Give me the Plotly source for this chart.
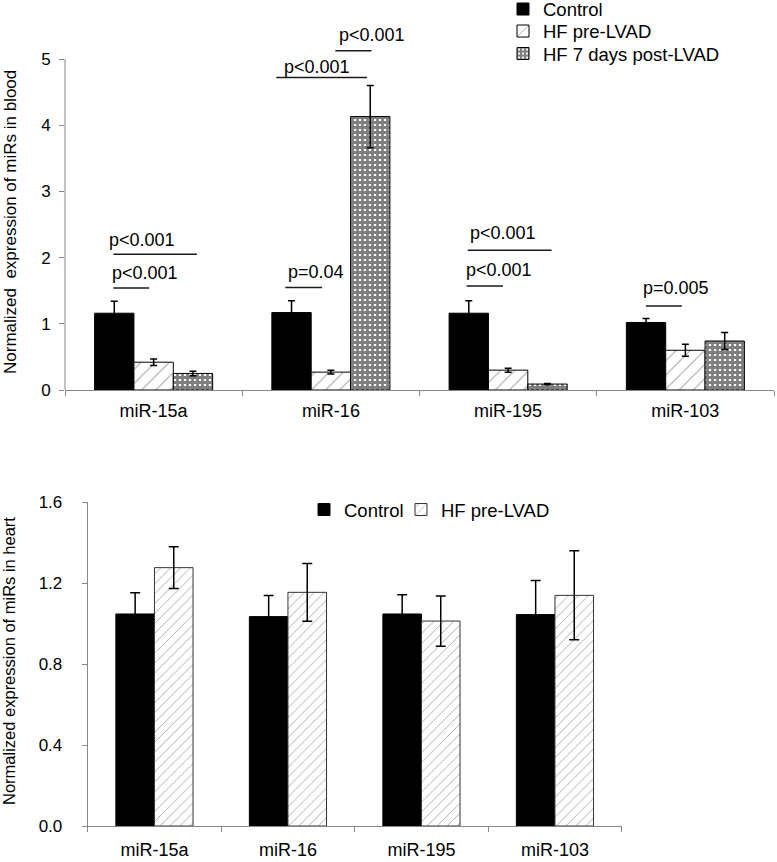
import plotly.graph_objects as go

# ---------------- data ----------------
categories = ["miR-15a", "miR-16", "miR-195", "miR-103"]

blood_control = [1.16, 1.17, 1.16, 1.02]
blood_control_err = [0.18, 0.18, 0.19, 0.06]
blood_pre = [0.42, 0.27, 0.30, 0.60]
blood_pre_err = [0.05, 0.03, 0.03, 0.09]
blood_post = [0.25, 4.13, 0.09, 0.74]
blood_post_err = [0.035, 0.47, 0.01, 0.13]

heart_control = [1.048, 1.035, 1.048, 1.045]
heart_control_err = [0.105, 0.104, 0.095, 0.168]
heart_pre = [1.277, 1.155, 1.013, 1.14]
heart_pre_err = [0.103, 0.143, 0.124, 0.22]

blood_ticks = [0, 1, 2, 3, 4, 5]
heart_ticks = [0.0, 0.4, 0.8, 1.2, 1.6]

# significance brackets (blood panel)
sig_cat = [0, 0, 1, 1, 1, 2, 2, 3]
sig_text = ["p<0.001", "p<0.001", "p=0.04", "p<0.001", "p<0.001", "p<0.001", "p<0.001", "p=0.005"]
sig_x0 = [-0.227, -0.227, -0.257, -0.308, 0.025, -0.234, -0.228, -0.223]
sig_x1 = [-0.025, 0.244, -0.05, 0.204, 0.229, -0.029, 0.245, -0.02]
sig_line_y = [1.54, 2.05, 1.55, 4.72, 5.125, 1.57, 2.11, 1.27]
sig_text_y = [1.77, 2.27, 1.78, 4.88, 5.36, 1.81, 2.37, 1.54]
sig_text_x = [-0.048, -0.068, -0.085, -0.076, 0.232, -0.049, -0.027, -0.051]

FONT = "Liberation Sans, Arial, sans-serif"
AXC = "#868686"
W, H = 777, 862
MB = 36
PH = H - MB  # paper height in px


def py(v):
    """page pixel row -> paper fraction"""
    return (PH - v) / PH


fig = go.Figure()

# ---------------- top chart (blood) ----------------
w3 = 0.222
fig.add_trace(go.Bar(
    x=categories, y=blood_control, name="Control", xaxis="x", yaxis="y",
    width=w3, offset=-1.5 * w3,
    marker=dict(color="black", line=dict(color="black", width=1)),
    error_y=dict(type="data", array=blood_control_err, color="black", thickness=1.5, width=3.5),
    legend="legend",
))
fig.add_trace(go.Bar(
    x=categories, y=blood_pre, name="HF pre-LVAD", xaxis="x", yaxis="y",
    width=w3, offset=-0.5 * w3,
    marker=dict(color="white", line=dict(color="black", width=1),
                pattern=dict(shape="/", fgcolor="#444444", bgcolor="white", size=10, solidity=0.1)),
    error_y=dict(type="data", array=blood_pre_err, color="black", thickness=1.5, width=3.5),
    legend="legend2",
))
fig.add_trace(go.Bar(
    x=categories, y=blood_post, name="HF 7 days post-LVAD", xaxis="x", yaxis="y",
    width=w3, offset=0.5 * w3,
    marker=dict(color="white", line=dict(color="black", width=1),
                pattern=dict(shape="+", fgcolor="black", bgcolor="white", size=5, solidity=0.8)),
    error_y=dict(type="data", array=blood_post_err, color="black", thickness=1.5, width=3.5),
    legend="legend3",
))

# ---------------- bottom chart (heart) ----------------
w2 = 0.289
fig.add_trace(go.Bar(
    x=categories, y=heart_control, name="Control", xaxis="x2", yaxis="y2",
    width=w2, offset=-w2,
    marker=dict(color="black", line=dict(color="black", width=1)),
    error_y=dict(type="data", array=heart_control_err, color="black", thickness=1.5, width=5),
    legend="legend4",
))
fig.add_trace(go.Bar(
    x=categories, y=heart_pre, name="HF pre-LVAD", xaxis="x2", yaxis="y2",
    width=w2, offset=0,
    marker=dict(color="white", line=dict(color="#333333", width=1),
                pattern=dict(shape="/", fgcolor="#444444", bgcolor="white", size=7, solidity=0.12)),
    error_y=dict(type="data", array=heart_pre_err, color="black", thickness=1.5, width=5),
    legend="legend5",
))

shapes = [
    # top y-axis line from 0 to 5 only
    dict(type="line", xref="x domain", yref="y", x0=0, x1=0, y0=0, y1=blood_ticks[-1],
         line=dict(color=AXC, width=1)),
]
annotations = []
for c, t, a, b, ly, ty, tx in zip(sig_cat, sig_text, sig_x0, sig_x1, sig_line_y, sig_text_y, sig_text_x):
    shapes.append(dict(type="line", xref="x", yref="y", x0=c + a, x1=c + b, y0=ly, y1=ly,
                       line=dict(color="#1a1a1a", width=1.5)))
    annotations.append(dict(xref="x", yref="y", x=c + tx, y=ty, text=t, showarrow=False,
                            xanchor="center", yanchor="middle",
                            font=dict(size=18, color="black", family=FONT)))

annotations.append(dict(xref="paper", yref="paper", x=10 / W, y=py(222), textangle=-90,
                        text="Normalized  expression of miRs in blood", showarrow=False,
                        xanchor="center", yanchor="middle",
                        font=dict(size=17, color="black", family=FONT)))
annotations.append(dict(xref="paper", yref="paper", x=9 / W, y=py(661), textangle=-90,
                        text="Normalized expression of miRs in heart", showarrow=False,
                        xanchor="center", yanchor="middle",
                        font=dict(size=16.5, color="black", family=FONT)))


def leg(xpx, ypx):
    return dict(x=xpx / W, y=py(ypx), xanchor="left", yanchor="middle", orientation="v",
                font=dict(size=18.5, family=FONT, color="black"), bgcolor="rgba(0,0,0,0)",
                borderwidth=0)


fig.update_layout(
    width=W, height=H,
    margin=dict(l=0, r=0, t=0, b=MB, autoexpand=False),
    paper_bgcolor="white", plot_bgcolor="white",
    font=dict(family=FONT, size=17, color="black"),
    barmode="overlay",
    showlegend=True,
    xaxis=dict(domain=[65 / W, 774 / W], anchor="y", type="category", range=[-0.5, 3.5],
               tickson="boundaries", ticks="outside", ticklen=5, tickcolor=AXC,
               showline=True, linecolor=AXC, linewidth=1, showgrid=False, zeroline=False,
               tickfont=dict(size=18), ticklabelstandoff=4, automargin=False),
    yaxis=dict(domain=[py(390), 1.0], anchor="x", range=[0, 390 / 66.2], tickvals=blood_ticks,
               ticks="outside", ticklen=5, tickcolor=AXC, showline=False, showgrid=False,
               zeroline=False, tickfont=dict(size=17), ticklabelstandoff=5, automargin=False),
    xaxis2=dict(domain=[87.7 / W, 621.7 / W], anchor="y2", type="category", range=[-0.5, 3.5],
                tickson="boundaries", ticks="outside", ticklen=5, tickcolor=AXC,
                showline=True, linecolor=AXC, linewidth=1, showgrid=False, zeroline=False,
                tickfont=dict(size=18), ticklabelstandoff=7, automargin=False),
    yaxis2=dict(domain=[0, py(502.3)], anchor="x2", range=[0, 1.6], tickvals=heart_ticks,
                ticktext=[f"{v:.1f}" for v in heart_ticks],
                ticks="outside", ticklen=5, tickcolor=AXC, showline=True, linecolor=AXC,
                showgrid=False, zeroline=False, tickfont=dict(size=17), ticklabelstandoff=16,
                automargin=False),
    legend=leg(503, 9.5),
    legend2=leg(503, 31.5),
    legend3=leg(503, 54),
    legend4=leg(304, 510),
    legend5=leg(401, 510),
    shapes=shapes,
    annotations=annotations,
)

fig.write_html("out.html", config={"displayModeBar": False},
               post_script="document.body.style.margin='0px';")
